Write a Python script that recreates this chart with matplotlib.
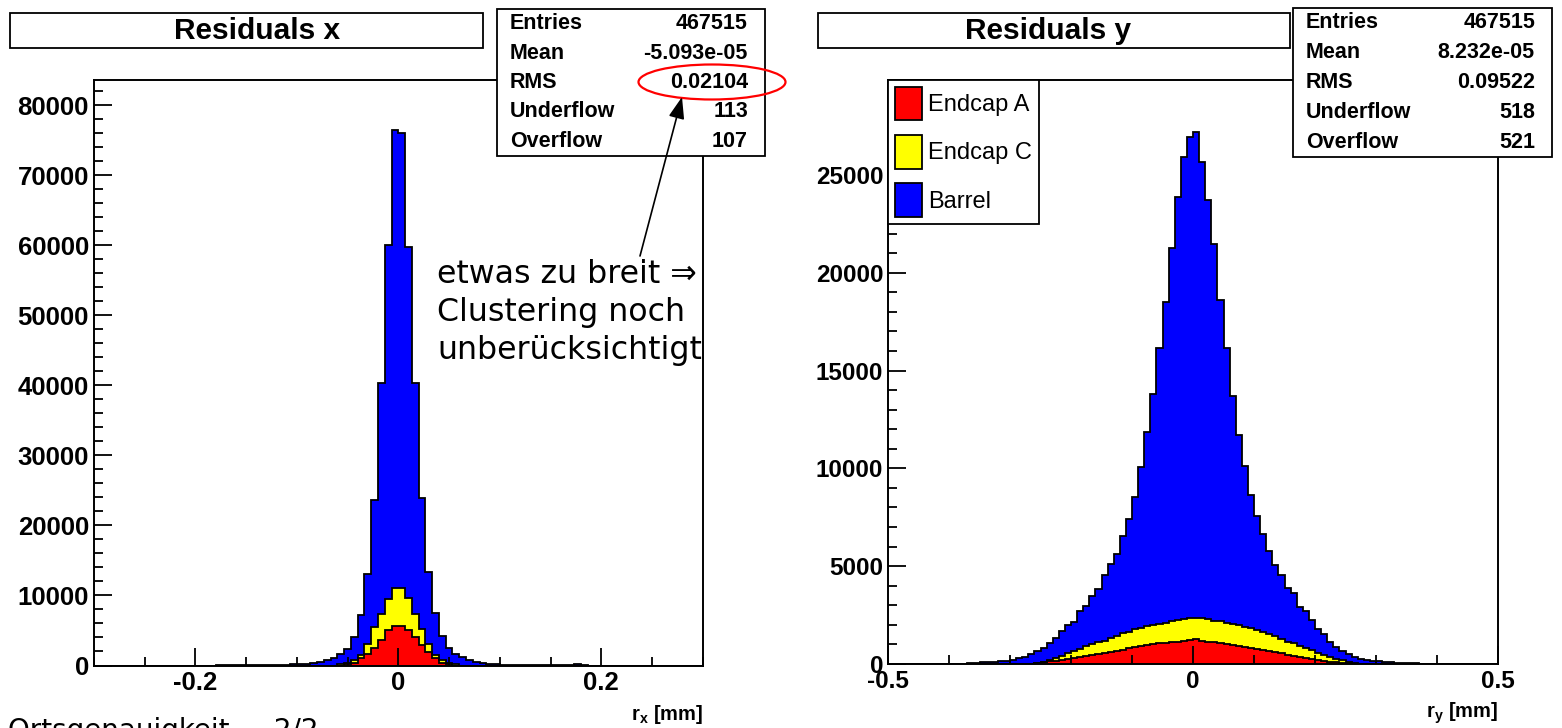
import numpy as np
import matplotlib.pyplot as plt
from matplotlib.patches import Rectangle, Ellipse, Patch
from matplotlib.ticker import MultipleLocator

plt.rcParams['font.family'] = ['Liberation Sans', 'DejaVu Sans']
plt.rcParams['font.weight'] = 'bold'
plt.rcParams['mathtext.fontset'] = 'custom'
plt.rcParams['mathtext.rm'] = 'Liberation Sans:bold'
plt.rcParams['mathtext.bf'] = 'Liberation Sans:bold'
plt.rcParams['mathtext.it'] = 'Liberation Sans:bold'
plt.rcParams['axes.axisbelow'] = False

# --- residuals x: 90 bins on [-0.3, 0.3] mm, stacked heights from bin 18 to 72
rx_edges = np.linspace(-0.3, 0.3, 91)
rx_first_bin = 18
rx_top_barrel = [60, 70, 70, 80, 80, 90, 100, 100, 110, 120,
                 130, 150, 170, 230, 330, 500, 800, 1100, 1600, 2300,
                 4000, 7200, 13000, 23600, 40300, 60000, 76400, 76000, 59800, 40300,
                 23900, 13300, 7500, 4200, 2500, 1700, 1150, 800, 550, 380,
                 260, 180, 140, 120, 110, 100, 100, 90, 90, 80,
                 80, 70, 120, 250, 60]
rx_top_endcap_c = ([0] * 18 +
                   [150, 350, 800, 1500, 3000, 5500, 7400, 9500, 11000,
                    11100, 9600, 7300, 5200, 3000, 1500, 800, 350, 150] +
                   [0] * 19)
rx_top_endcap_a = ([0] * 19 +
                   [150, 400, 1000, 1600, 2500, 3700, 5000, 5600,
                    5700, 5000, 4100, 2900, 1900, 1000, 400, 150] +
                   [0] * 20)

# --- residuals y: 100 bins on [-0.5, 0.5] mm, stacked heights from bin 10 to 89
ry_edges = np.linspace(-0.5, 0.5, 101)
ry_first_bin = 10
ry_top_barrel = [0, 0, 20, 40, 60, 80, 100, 120, 140, 150,
                 200, 290, 380, 530, 650, 800, 1080, 1350, 1690, 1970,
                 2160, 2710, 2990, 3460, 3830, 4570, 5130, 5600, 6520, 7420,
                 8530, 10060, 11860, 13780, 16130, 18520, 21250, 23850, 25890, 26950,
                 27200, 25670, 23720, 21450, 18610, 16130, 13680, 11730, 10100, 8660,
                 7550, 6620, 5780, 5080, 4570, 3870, 3640, 2900, 2710, 2250,
                 1790, 1510, 1140, 850, 650, 500, 350, 280, 220, 170,
                 130, 110, 90, 70, 60, 50, 40, 20, 0, 0]
ry_top_endcap_c = ([0] * 13 +
                   [20, 60, 120, 220, 330, 420, 560, 680, 780, 900,
                    1020, 1130, 1200, 1310, 1450, 1560, 1650, 1780, 1850, 1930,
                    1980, 2060, 2100, 2200, 2250, 2320, 2360, 2360, 2330, 2280,
                    2220, 2180, 2100, 2040, 1980, 1900, 1840, 1740, 1630, 1530,
                    1420, 1300, 1150, 1060, 930, 830, 700, 580, 450, 360,
                    260, 180, 110, 50, 20] +
                   [0] * 12)
ry_top_endcap_a = ([0] * 13 +
                   [20, 60, 90, 130, 170, 210, 260, 300, 350, 400,
                    450, 510, 560, 620, 680, 740, 800, 860, 920, 970,
                    1010, 1050, 1080, 1110, 1140, 1170, 1210,
                    1280, 1200, 1150, 1110, 1060, 1010, 970, 920, 880, 840,
                    780, 720, 660, 600, 540, 480, 420, 360, 300, 250,
                    200, 160, 120, 90, 60, 40, 20] +
                   [0] * 13)

labels = ['Endcap A', 'Endcap C', 'Barrel']
colors = ['#ff0000', '#ffff00', '#0000ff']

stats_x = [('Entries', '467515'), ('Mean', '-5.093e-05'), ('RMS', '0.02104'),
           ('Underflow', '113'), ('Overflow', '107')]
stats_y = [('Entries', '467515'), ('Mean', '8.232e-05'), ('RMS', '0.09522'),
           ('Underflow', '518'), ('Overflow', '521')]

W, H = 1562, 728
fig = plt.figure(figsize=(W / 100, H / 100), dpi=100)
ax1 = fig.add_axes([93.8 / W, (H - 665.5) / H, 609 / W, 585.5 / H])
ax2 = fig.add_axes([888 / W, (H - 664) / H, 610 / W, 584 / H])


def draw_stack(ax, edges, first, tops):
    nbins = len(edges) - 1
    # barrel on top of the stack is drawn first, endcap A last
    for top, col in zip(tops[::-1], colors[::-1]):
        full = np.zeros(nbins)
        full[first:first + len(top)] = top
        ax.stairs(full, edges, fill=True, color=col, zorder=1)
        ax.stairs(full, edges, baseline=0, color='black', lw=1.3, zorder=1.1)


def style_axes(ax, xmaj, xmin, ymaj, ymin, size):
    ax.xaxis.set_major_locator(MultipleLocator(xmaj))
    ax.xaxis.set_minor_locator(MultipleLocator(xmin))
    ax.yaxis.set_major_locator(MultipleLocator(ymaj))
    ax.yaxis.set_minor_locator(MultipleLocator(ymin))
    ax.tick_params(which='both', direction='in', top=False, right=False,
                   width=1.3, labelsize=size)
    ax.tick_params(which='major', length=13)
    ax.tick_params(which='minor', length=6.5)
    ax.tick_params(axis='x', pad=4)
    ax.tick_params(axis='y', pad=3.5)
    for sp in ax.spines.values():
        sp.set_linewidth(1.4)
    ax.xaxis.set_major_formatter(lambda v, p: '0' if abs(v) < 1e-9 else f'{v:g}')


draw_stack(ax1, rx_edges, rx_first_bin,
           [rx_top_endcap_a, rx_top_endcap_c, rx_top_barrel])
ax1.set_xlim(-0.3, 0.3)
ax1.set_ylim(0, 83600)
style_axes(ax1, 0.2, 0.05, 10000, 2000, 18.5)
ax1.set_xlabel(r'$\mathbf{r_{x}}$ [mm]', loc='right', fontsize=14.5,
               fontweight='bold', labelpad=6)

draw_stack(ax2, ry_edges, ry_first_bin,
           [ry_top_endcap_a, ry_top_endcap_c, ry_top_barrel])
ax2.set_xlim(-0.5, 0.5)
ax2.set_ylim(0, 29850)
style_axes(ax2, 0.5, 0.1, 5000, 1000, 17.5)
ax2.set_xlabel(r'$\mathbf{r_{y}}$ [mm]', loc='right', fontsize=14.5,
               fontweight='bold', labelpad=6)

handles = [Patch(facecolor=c, edgecolor='black', lw=1.3) for c in colors]
leg = ax2.legend(handles, labels, loc='upper left', bbox_to_anchor=(0, 1),
                 borderaxespad=0, fancybox=False, framealpha=1,
                 edgecolor='black', prop={'size': 17, 'weight': 'normal'},
                 handlelength=1.15, handleheight=1.8, handletextpad=0.25,
                 borderpad=0.3, labelspacing=0.62)
leg.get_frame().set_linewidth(1.3)

# overlay in pixel units for the title boxes, stat boxes and the note
ov = fig.add_axes([0, 0, 1, 1], zorder=10)
ov.set_xlim(0, W)
ov.set_ylim(H, 0)
ov.axis('off')


def title_box(x0, x1, xc, text):
    ov.add_patch(Rectangle((x0, 13), x1 - x0, 35, facecolor='white',
                           edgecolor='black', lw=1.3))
    ov.text(xc, 31, text, ha='center', va='center', fontsize=21.5)


def stats_box(x0, x1, y0, y1, rows):
    ov.add_patch(Rectangle((x0, y0), x1 - x0, y1 - y0, facecolor='white',
                           edgecolor='black', lw=1.3))
    step = (y1 - y0) / len(rows)
    for k, (name, val) in enumerate(rows):
        yc = y0 + step * (k + 0.5)
        ov.text(x0 + 13, yc, name, ha='left', va='center', fontsize=15.5)
        ov.text(x1 - 17, yc, val, ha='right', va='center', fontsize=15.5)


title_box(10, 483, 257, 'Residuals x')
title_box(818, 1290, 1048, 'Residuals y')
stats_box(497, 765, 9, 156, stats_x)
stats_box(1293, 1552, 8, 157, stats_y)

ov.add_patch(Ellipse((712, 82), 147, 35, fill=False, edgecolor='red', lw=1.6))
ov.annotate('', xy=(682, 97), xytext=(640, 256),
            arrowprops=dict(arrowstyle='-|>,head_length=0.6,head_width=0.22',
                            color='black', lw=1.2, mutation_scale=22,
                            shrinkA=0, shrinkB=0))
ov.text(437, 259, 'etwas zu breit \u21d2\nClustering noch\nunberücksichtigt',
        ha='left', va='top', fontsize=22.8, family='DejaVu Sans',
        weight='normal', linespacing=1.3)
ov.text(8, 739, 'Ortsgenauigkeit     2/2', ha='left', va='baseline',
        fontsize=20, family='DejaVu Sans', weight='normal')

fig.savefig('out.png', dpi=100)
